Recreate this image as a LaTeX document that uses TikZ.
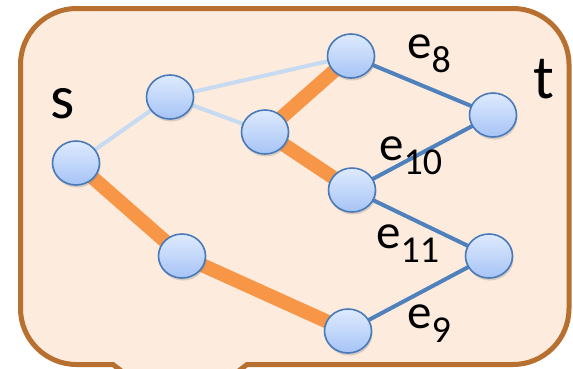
\documentclass[tikz,border=0pt]{standalone}
\usepackage{fontspec}
\setmainfont{Carlito}
\usetikzlibrary{shapes.geometric,shadows}
\definecolor{boxfill}{RGB}{253,235,221}
\definecolor{boxline}{RGB}{184,112,48}
\definecolor{vtop}{RGB}{222,234,253}
\definecolor{vbot}{RGB}{166,196,246}
\definecolor{vline}{RGB}{72,122,186}
\definecolor{pathcol}{RGB}{247,150,70}
\definecolor{usedcol}{RGB}{79,129,189}
\definecolor{unusedcol}{RGB}{198,218,241}
\newcommand{\subidx}[1]{\raisebox{-14pt}{\fontsize{38}{38}\selectfont #1}}
\pgfdeclarelayer{bg}
\pgfdeclarelayer{edges}
\pgfsetlayers{bg,edges,main}

\begin{document}
\begin{tikzpicture}[x=1pt,y=-1pt,
        vtx/.style={ellipse, draw=vline, line width=1.6pt, top color=vtop, bottom color=vbot,
            minimum width=47pt, minimum height=44pt, inner sep=0pt,
            drop shadow={opacity=0.3, shadow xshift=1pt, shadow yshift=-2.5pt}},
        lbl/.style={anchor=base west, inner sep=0pt, font=\fontsize{49}{49}\selectfont},
        big/.style={anchor=base west, inner sep=0pt, font=\fontsize{62}{62}\selectfont},
        unused/.style={unusedcol, line width=4pt},
        used/.style={usedcol, line width=4pt},
        chosen/.style={pathcol, line width=14pt}]
    \useasboundingbox (0,0) rectangle (573,368);
    \clip (0,0) rectangle (573,368);

    \begin{pgfonlayer}{bg}
        \draw[boxline, fill=boxfill, line width=5pt]
            (113,364.5) [rounded corners=56pt] -- (20.5,364.5) -- (20.5,8.5)
            -- (569,8.5) -- (569,364.5) -- (400,364.5) [sharp corners] -- (247,364.5)
            -- (227,380) -- (133,380) -- cycle;
    \end{pgfonlayer}

    \node[vtx] (v1) at (76,163) {};
    \node[vtx] (v2) at (170,97) {};
    \node[vtx] (v3) at (265,132) {};
    \node[vtx] (v4) at (351,56) {};
    \node[vtx] (v5) at (493,115) {};
    \node[vtx] (v6) at (352,190) {};
    \node[vtx] (v7) at (182,256) {};
    \node[vtx] (v8) at (489,256) {};
    \node[vtx] (v9) at (348,331) {};

    \node[big] (s) at (50,118) {s};
    \node[big] (t) at (533,98) {t};
    \node[lbl] (e8) at (407,58) {e\subidx{8}};
    \node[lbl] (e10) at (379,160) {e\subidx{10}};
    \node[lbl] (e11) at (376,248) {e\subidx{11}};
    \node[lbl] (e9) at (407,328) {e\subidx{9}};

    \begin{pgfonlayer}{edges}
        \draw[unused] (v1.center) -- (v2.center) -- (v4.center);
        \draw[unused] (v2.center) -- (v3.center);
        \draw[chosen] (v1.center) -- (v7.center) -- (v9.center);
        \draw[chosen] (v4.center) -- (v3.center) -- (v6.center);
        \draw[used] (v4.center) -- (v5.center) -- (v6.center) -- (v8.center) -- (v9.center);
    \end{pgfonlayer}
\end{tikzpicture}
\end{document}
